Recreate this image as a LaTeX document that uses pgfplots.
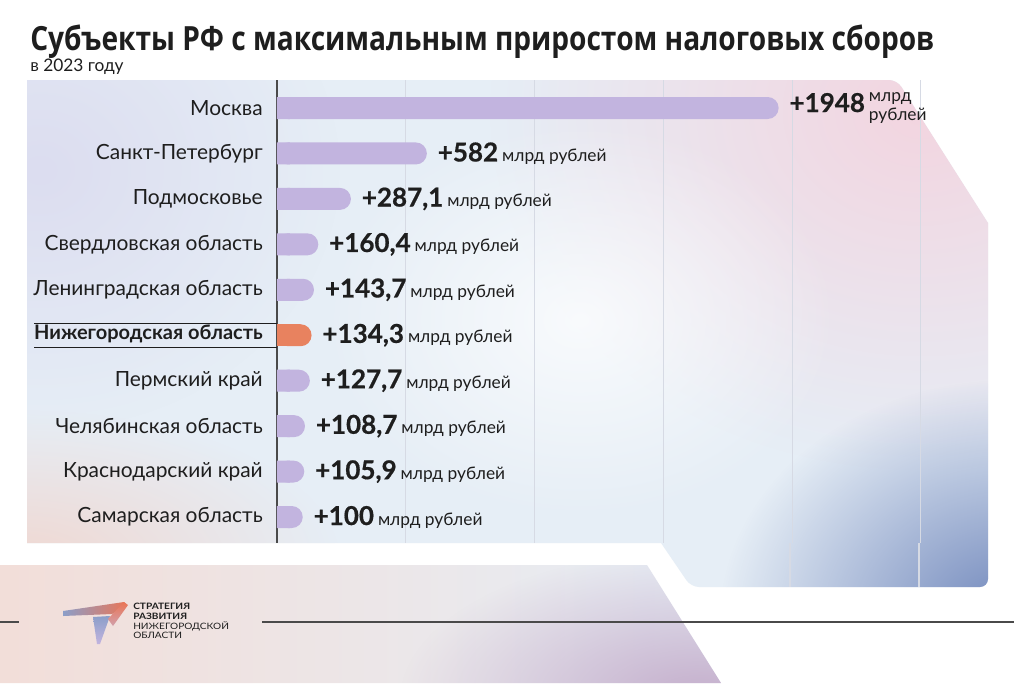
\documentclass[border=0pt]{standalone}
\usepackage{pgfplots}
\pgfplotsset{compat=1.18}
\usepackage{pgfplotstable}
\usepackage{fontspec}
\setmainfont{Lato}
\newfontfamily\titlefont{Open Sans}
\usetikzlibrary{fadings}
\definecolor{cbar}{HTML}{C2B4DF}
\definecolor{corange}{HTML}{E8825F}
\definecolor{cgrid}{HTML}{D6DAE4}
\definecolor{caxis}{HTML}{4A4A4A}
\definecolor{ctext}{HTML}{1E1E1E}
\definecolor{cbase}{HTML}{E6EEF6}
\definecolor{cpink}{HTML}{F3D5E0}
\definecolor{cblue}{HTML}{6F86BB}
\definecolor{cbeige}{HTML}{F0D8D2}
\definecolor{clav}{HTML}{DCDDF0}
\definecolor{cmauve}{HTML}{C4ADCB}
\tikzfading[name=glow, inner color=transparent!0, outer color=transparent!100]
\setlength\arrayrulewidth{0.8pt}
\newcommand\valfont{\fontsize{19.5}{22}\selectfont\bfseries\addfontfeature{FakeBold=0.6}}
\newcommand\vl[1]{{\valfont #1}\hspace{3pt}{\fontsize{13}{14}\selectfont млрд рублей}}
\newcommand\vm[1]{{\valfont #1}\hspace{3pt}{\fontsize{13}{12.5}\selectfont\begin{tabular}[c]{@{}l@{}}млрд\\[1pt]рублей\end{tabular}}}
\newcommand\nizh{\begin{tabular}{@{}r@{\hspace{10.5pt}}}\hline{\fontsize{15}{17.4}\selectfont\bfseries Нижегородская область}\\\hline\end{tabular}\kern-10.5pt}

\pgfplotstableread{
y v lab
0 1948 {\vm{+1948}}
1 582 {\vl{+582}}
2 287.1 {\vl{+287,1}}
3 160.4 {\vl{+160,4}}
4 143.7 {\vl{+143,7}}
6 127.7 {\vl{+127,7}}
7 108.7 {\vl{+108,7}}
8 105.9 {\vl{+105,9}}
9 100 {\vl{+100}}
}\datalav
\pgfplotstableread{
y v lab
5 134.3 {\vl{+134,3}}
}\dataor

\begin{document}
\begin{tikzpicture}
\begin{scope}[x=0.75pt, y=-0.75pt]
\useasboundingbox (0,0) rectangle (1014,683);
\fill[white] (0,0) rectangle (1014,683);
% bottom band
\begin{scope}
\clip (0,565) -- (647,565) -- (721,683) -- (0,683) -- cycle;
\shade[left color=cbeige!85!white, right color=cbase] (0,565) rectangle (721,683);
\fill[cmauve, path fading=glow] (700,700) ellipse (300 and 150);
\end{scope}
% panel
\begin{scope}
\clip[rounded corners=6pt] (27,80) -- (897,80) [sharp corners]-- (988,223) [rounded corners=6pt]-- (988,587) -- (691,587) [sharp corners]-- (661,543) -- (27,543) -- cycle;
\fill[cbase] (0,0) rectangle (1014,683);
\fill[clav, path fading=glow] (40,170) ellipse (300 and 260);
\fill[cpink, path fading=glow] (920,110) ellipse (430 and 360);
\fill[cbeige, path fading=glow] (20,560) ellipse (320 and 150);
\fill[cblue, path fading=glow] (1010,620) ellipse (290 and 240);
\fill[white, path fading=glow, opacity=0.75] (580,320) ellipse (260 and 200);
\draw[cgrid, line width=0.8pt] (790,543) -- (790,587) (919,543) -- (919,587);
\end{scope}
% footer line
\draw[caxis, line width=1.1pt] (262,622) -- (1014,622);
\draw[caxis, line width=1.1pt] (0,622) -- (19,622);
% logo
\shade[left color=cblue!80!white, right color=corange!90!red] (63,611) -- (124,602) -- (127,605) -- (112,614) -- (63,616) -- cycle;
\shade[top color=cblue!80!white, bottom color=cbar] (93,617) -- (110,616) -- (100,644) -- (97,644) -- cycle;
\shade[top color=corange!90!red, bottom color=cbar!60!corange] (124,602) -- (128,605) -- (113,626) -- (108,619) -- cycle;
\node[anchor=west, inner sep=0, text=ctext, align=left, font=\fontsize{6.6}{7.4}\selectfont] at (133,621) {\scalebox{1.15}[1]{\bfseries СТРАТЕГИЯ}\\\scalebox{1.15}[1]{\bfseries РАЗВИТИЯ}\\\scalebox{1.15}[1]{НИЖЕГОРОДСКОЙ}\\\scalebox{1.15}[1]{ОБЛАСТИ}};
% title
\node[anchor=base west, inner sep=0, text=ctext] at (30,50) {\resizebox{678pt}{\height}{\titlefont\bfseries\fontsize{25}{28}\selectfont Субъекты РФ с максимальным приростом налоговых сборов}};
\node[anchor=base west, inner sep=0, text=ctext] at (30,71) {\fontsize{13}{15}\selectfont в 2023 году};
\end{scope}
\begin{axis}[
  at={(207.75pt,-60pt)}, anchor=north west,
  scale only axis, width=533.25pt, height=347.25pt,
  xmin=0, xmax=2761, ymin=-0.616, ymax=9.572, y dir=reverse,
  xbar, bar width=16.5pt, bar shift=0pt,
  axis lines=left, axis line style={-},
  x axis line style={draw=none},
  y axis line style={draw=caxis, line width=0.9pt},
  xtick={500,1000,1500,2000,2500}, xticklabel style={opacity=0},
  xmajorgrids, grid style={draw=cgrid, line width=0.8pt},
  ytick={0,...,9},
  yticklabels={Москва, Санкт-Петербург, Подмосковье, Свердловская область, Ленинградская область, {\nizh}, Пермский край, Челябинская область, Краснодарский край, Самарская область},
  major tick length=0pt, tick style={draw=none},
  yticklabel style={anchor=east, inner sep=0pt, xshift=-10.5pt, font=\fontsize{15.7}{17.4}\selectfont, text=ctext},
  clip=false,
  nodes near coords style={anchor=west, inner sep=0pt, xshift=8pt, text=ctext},
]
\addplot[fill=cbar, draw=none, x filter/.expression={min(x,50)}] table[x=v, y=y] {\datalav};
\addplot[fill=cbar, draw=none, rounded corners=8.25pt, nodes near coords, point meta=explicit symbolic] table[x=v, y=y, meta=lab] {\datalav};
\addplot[fill=corange, draw=none, x filter/.expression={min(x,50)}] table[x=v, y=y] {\dataor};
\addplot[fill=corange, draw=none, rounded corners=8.25pt, nodes near coords, point meta=explicit symbolic] table[x=v, y=y, meta=lab] {\dataor};
\end{axis}
\end{tikzpicture}
\end{document}
